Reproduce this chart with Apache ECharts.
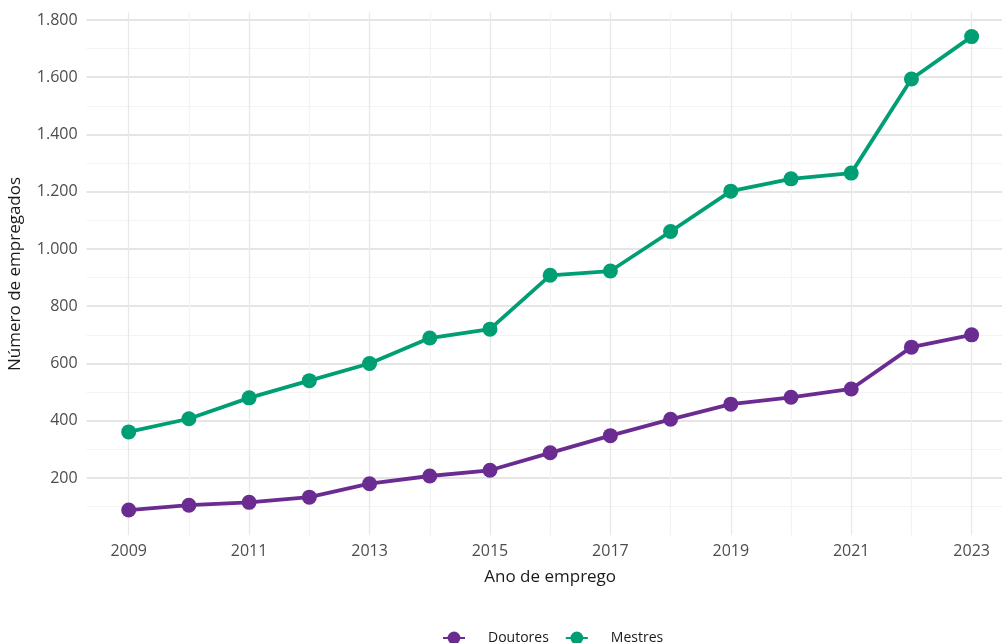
<!DOCTYPE html>
<html><head><meta charset="utf-8">
<script src="https://cdn.jsdelivr.net/npm/echarts@6/dist/echarts.min.js"></script>
<style>html,body{margin:0;padding:0;background:#fff}#c{width:1002px;height:643px}</style>
</head><body><div id="c"></div>
<script>
const years = [2009,2010,2011,2012,2013,2014,2015,2016,2017,2018,2019,2020,2021,2022,2023];
const doutores = [88,105,115,133,180,207,227,288,348,405,458,482,511,657,700];
const mestres = [361,407,480,540,600,689,720,908,923,1061,1202,1245,1265,1594,1742];
const seriesNames = ['Doutores','Mestres'];
const yTicks = [200,400,600,800,1000,1200,1400,1600,1800];

const FONT = 'Open Sans';
const pxPerYear = 60.21;
const x2009 = 128.7;
const gridTop = 12.6;
const gridHeight = 535.25 - 12.6;
const yMax = 1825.75;

const chart = echarts.init(document.getElementById('c'), null, {renderer:'canvas'});
const fmtNum = v => String(v).replace(/\B(?=(\d{3})+(?!\d))/g, '.');
const vColors = [];
for (let y = 2009; y <= 2024; y++) vColors.push(y % 2 === 1 ? '#e8e8e8' : '#f3f3f3');

chart.setOption({
  animation:false,
  textStyle:{fontFamily:FONT},
  grid:[
    {left:86.6, width:927.2, top:gridTop, height:gridHeight, containLabel:false, outerBoundsMode:'none'},
    {left:x2009-pxPerYear, width:16*pxPerYear, top:gridTop, height:gridHeight, containLabel:false, outerBoundsMode:'none'}
  ],
  legend:{
    data:seriesNames, top:626, left:437, itemWidth:22, itemHeight:16, itemGap:16,
    textStyle:{fontFamily:FONT, fontSize:14, color:'#1a1a1a', padding:[0,0,0,18]}
  },
  xAxis:[
    {gridIndex:0, type:'value', min:0, max:1, show:false},
    {gridIndex:1, type:'value', min:2008, max:2024, interval:1,
     name:'Ano de emprego', nameLocation:'middle', nameGap:33,
     nameTextStyle:{fontFamily:FONT, fontSize:17, color:'#1a1a1a'},
     axisLine:{show:false}, axisTick:{show:false},
     axisLabel:{fontFamily:FONT, fontSize:16, color:'#4d4d4d', margin:8,
       showMinLabel:false, showMaxLabel:false,
       formatter: v => (v % 2 === 1 && v >= 2009 && v <= 2023) ? String(v) : ''},
     splitLine:{show:true, showMinLine:false, showMaxLine:false, lineStyle:{color:vColors, width:1.3}}
    }
  ],
  yAxis:[
    {gridIndex:0, type:'value', min:0, max:yMax, interval:200,
     name:'Número de empregados', nameLocation:'middle', nameGap:63,
     nameTextStyle:{fontFamily:FONT, fontSize:17, color:'#1a1a1a'},
     axisLine:{show:false}, axisTick:{show:false},
     axisLabel:{fontFamily:FONT, fontSize:16, color:'#4d4d4d', margin:9, showMaxLabel:false,
       formatter: v => yTicks.includes(v) ? fmtNum(v) : ''},
     splitLine:{show:true, showMinLine:false, showMaxLine:false, lineStyle:{color:'#dcdcdc', width:1.6}},
     minorTick:{show:false, splitNumber:2},
     minorSplitLine:{show:true, lineStyle:{color:'#f3f3f3', width:1}}
    },
    {gridIndex:1, type:'value', min:0, max:yMax, show:false, splitLine:{show:false}}
  ],
  series:[
    {name:seriesNames[0], type:'line', xAxisIndex:1, yAxisIndex:1,
     data: years.map((y,i)=>[y, doutores[i]]),
     symbol:'circle', symbolSize:15, showSymbol:true,
     itemStyle:{color:'#6b2c91'}, lineStyle:{color:'#6b2c91', width:3.8}, z:3},
    {name:seriesNames[1], type:'line', xAxisIndex:1, yAxisIndex:1,
     data: years.map((y,i)=>[y, mestres[i]]),
     symbol:'circle', symbolSize:15, showSymbol:true,
     itemStyle:{color:'#009e73'}, lineStyle:{color:'#009e73', width:3.8}, z:3}
  ]
});
</script></body></html>
